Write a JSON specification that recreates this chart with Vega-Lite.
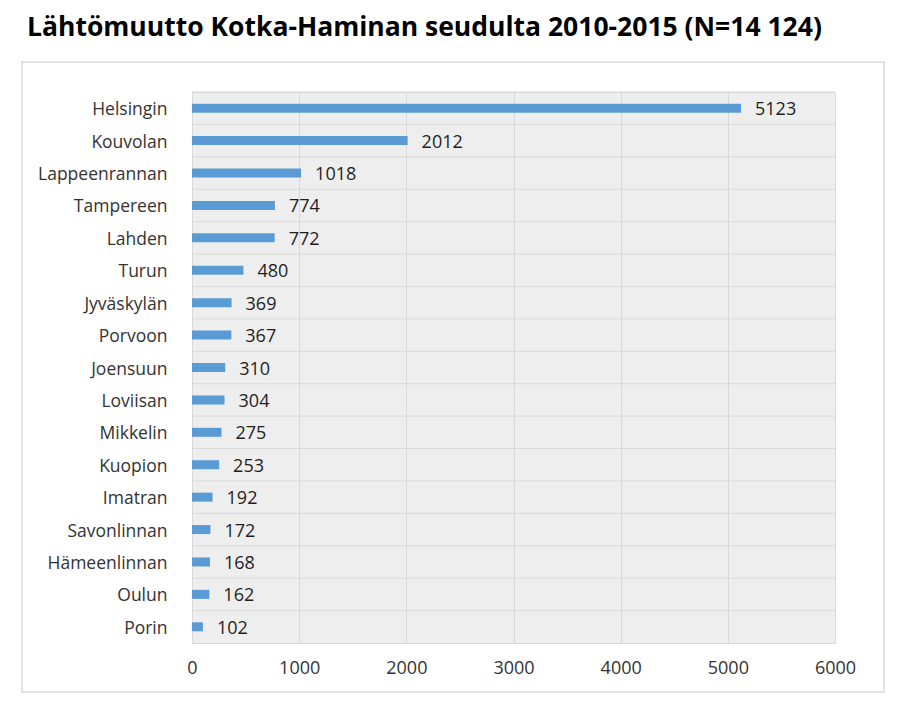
{
  "$schema": "https://vega.github.io/schema/vega-lite/v6.json",
  "autosize": "none",
  "width": 643,
  "height": 551,
  "padding": {"left": 192, "top": 92, "right": 63, "bottom": 64},
  "background": "white",
  "title": {
    "text": "Lähtömuutto Kotka-Haminan seudulta 2010-2015 (N=14 124)",
    "anchor": "start",
    "frame": "group",
    "dx": -165,
    "offset": -1,
    "baseline": "alphabetic",
    "font": "Open Sans",
    "fontSize": 26.5,
    "fontWeight": "bold",
    "color": "#000000"
  },
  "config": {
    "view": {"stroke": "#d9d9d9", "strokeWidth": 1, "fill": "#eeeeee"},
    "font": "Open Sans"
  },
  "data": {
    "values": [
      {"seutu": "Helsingin", "n": 5123},
      {"seutu": "Kouvolan", "n": 2012},
      {"seutu": "Lappeenrannan", "n": 1018},
      {"seutu": "Tampereen", "n": 774},
      {"seutu": "Lahden", "n": 772},
      {"seutu": "Turun", "n": 480},
      {"seutu": "Jyväskylän", "n": 369},
      {"seutu": "Porvoon", "n": 367},
      {"seutu": "Joensuun", "n": 310},
      {"seutu": "Loviisan", "n": 304},
      {"seutu": "Mikkelin", "n": 275},
      {"seutu": "Kuopion", "n": 253},
      {"seutu": "Imatran", "n": 192},
      {"seutu": "Savonlinnan", "n": 172},
      {"seutu": "Hämeenlinnan", "n": 168},
      {"seutu": "Oulun", "n": 162},
      {"seutu": "Porin", "n": 102}
    ]
  },
  "layer": [
    {
      "layer": [
        {
          "mark": {"type": "rule", "color": "#d9d9d9", "strokeWidth": 1},
          "encoding": {
            "y": {"field": "seutu", "type": "nominal", "sort": null, "bandPosition": 0}
          }
        },
        {
          "mark": {"type": "bar", "color": "#5b9bd5", "size": 9},
          "encoding": {
            "y": {
              "field": "seutu",
              "type": "nominal",
              "sort": null,
              "scale": {"paddingInner": 0, "paddingOuter": 0},
              "axis": {
                "title": null,
                "ticks": false,
                "domain": false,
                "grid": false,
                "labelPadding": 25,
                "labelOffset": 2,
                "labelFontSize": 17.5,
                "labelColor": "#333333",
                "labelFont": "Open Sans"
              }
            },
            "x": {
              "field": "n",
              "type": "quantitative",
              "scale": {"domain": [0, 6000], "nice": false},
              "axis": {
                "title": null,
                "values": [0, 1000, 2000, 3000, 4000, 5000, 6000],
                "format": "d",
                "ticks": false,
                "domain": false,
                "grid": true,
                "gridColor": "#d9d9d9",
                "labelPadding": 16,
                "labelFontSize": 18,
                "labelColor": "#333333",
                "labelFont": "Open Sans",
                "labelFlush": false
              }
            }
          }
        },
        {
          "mark": {"type": "text", "align": "left", "baseline": "middle", "dx": 14, "dy": 2, "fontSize": 18, "color": "#1f1f1f", "font": "Open Sans"},
          "encoding": {
            "y": {"field": "seutu", "type": "nominal", "sort": null},
            "x": {"field": "n", "type": "quantitative"},
            "text": {"field": "n", "type": "quantitative", "format": "d"}
          }
        }
      ]
    },
    {
      "data": {"values": [{}]},
      "mark": {"type": "rect", "fill": null, "fillOpacity": 0, "stroke": "#d9d9d9", "strokeWidth": 1.5},
      "encoding": {
        "x": {"datum": -1586, "type": "quantitative", "scale": {"domain": [0, 6000], "nice": false}},
        "x2": {"datum": 6457},
        "y": {"datum": -0.0889, "type": "quantitative", "scale": {"domain": [0, 1], "nice": false, "zero": false}, "axis": null},
        "y2": {"datum": 1.0544}
      }
    }
  ],
  "resolve": {"scale": {"y": "independent"}}
}
